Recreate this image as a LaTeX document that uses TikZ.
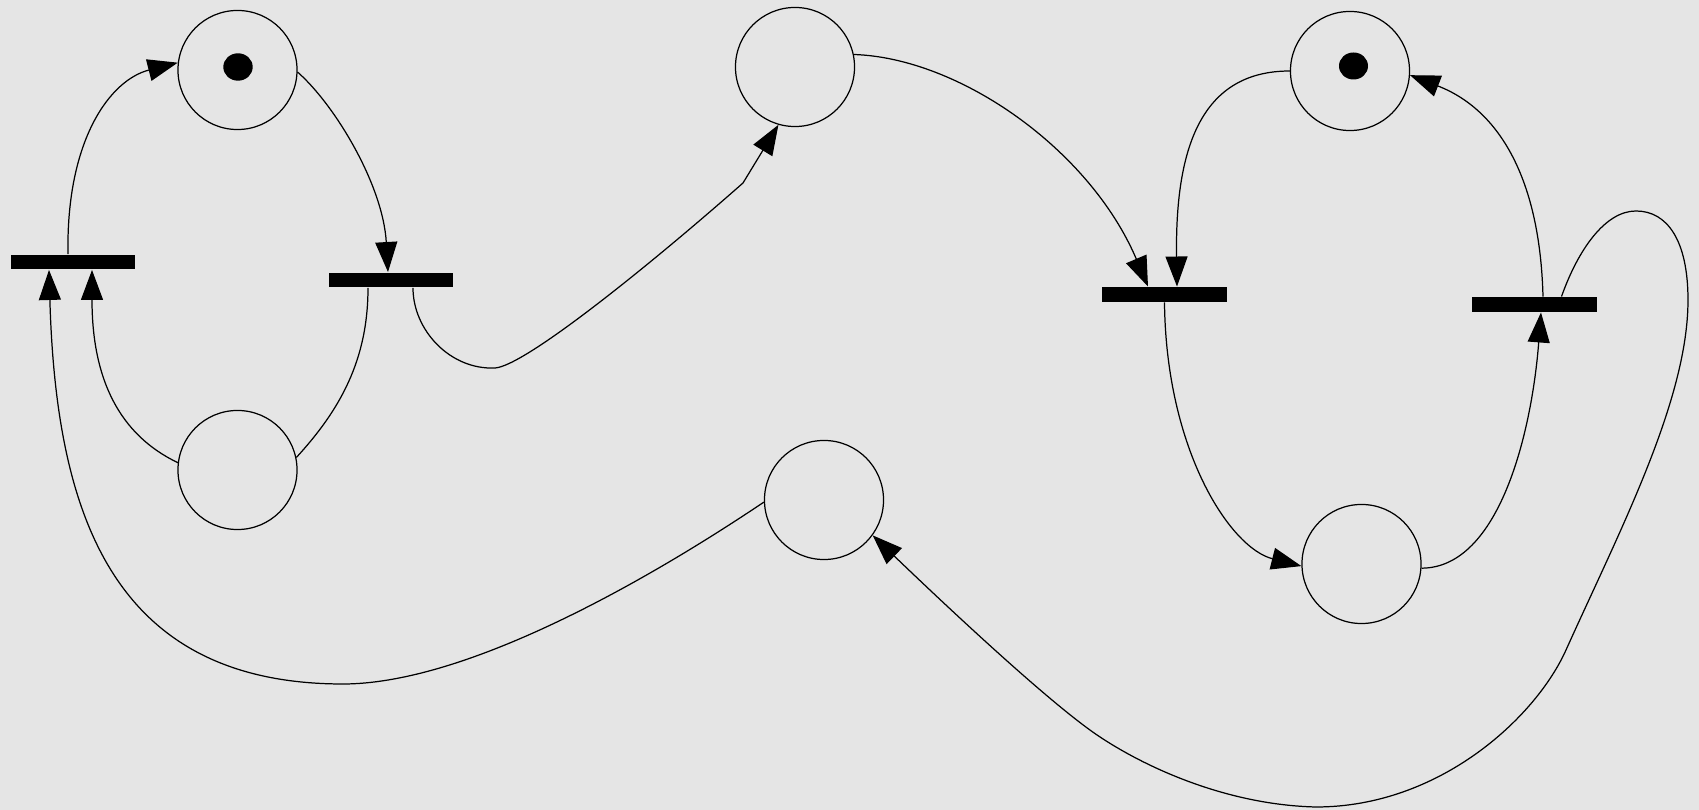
\documentclass[tikz,border=0pt]{standalone}
\usetikzlibrary{arrows.meta,calc}
\definecolor{bgc}{RGB}{229,229,229}
\begin{document}
\begin{tikzpicture}[x=0.01cm,y=-0.01cm,
  place/.style={circle,draw,line width=0.35pt,minimum size=1.19cm,inner sep=0pt},
  trans/.style={rectangle,fill=black,minimum width=1.24cm,minimum height=0.145cm,inner sep=0pt},
  arc/.style={line width=0.35pt,-{Triangle[length=0.3cm,width=0.22cm]}},
  plain/.style={line width=0.35pt}]
\fill[bgc] (0,0) rectangle (1699,810);
\useasboundingbox (0,0) rectangle (1699,810);
% places
\node[place] (p1) at (237.5,70) {};
\node[place] (p2) at (237.5,470) {};
\node[place] (p3) at (795,67) {};
\node[place] (p4) at (824,500) {};
\node[place] (p5) at (1350,71) {};
\node[place] (p6) at (1361.5,564) {};
% transitions
\node[trans] (t1) at (73,262) {};
\node[trans] (t2) at (391,280) {};
\node[trans] (t3) at (1164.5,294.5) {};
\node[trans] (t4) at (1534.5,304.5) {};
% tokens
\fill ($(p1)+(0.5,-3)$) ellipse [x radius=0.147cm, y radius=0.137cm];
\fill ($(p5)+(3.5,-5)$) ellipse [x radius=0.145cm, y radius=0.135cm];
% arcs
\draw[arc] ($(t1.north)+(-5,0)$) .. controls (66,140) and (110,80) .. (p1.173);
\draw[arc] (p1.-2) .. controls (335,105) and (383,185) .. ($(t2.north)+(-3,0)$);
\draw[plain] ($(t2.south)+(-23,0)$) .. controls (368,360) and (340,410) .. (p2.12);
\draw[arc] (p2.173) .. controls (120,435) and (92,380) .. ($(t1.south)+(19,0)$);
\draw[arc] (p4.182) .. controls (660,572) and (470,685) .. (341,684)
  .. controls (110,683) and (56,510) .. ($(t1.south)+(-24,0)$);
\draw[arc] ($(t2.south)+(22,0)$) .. controls (413,330) and (450,370) .. (495,368)
  .. controls (525,366) and (650,265) .. (743,183) -- (p3.254);
\draw[arc] (p3.12) .. controls (960,58) and (1090,150) .. ($(t3.north)+(-16.5,0)$);
\draw[arc] (p5.west) .. controls (1200,71) and (1175,150) .. ($(t3.north)+(12.5,0)$);
\draw[arc] (t3.south) .. controls (1166,450) and (1230,548) .. (p6.182);
\draw[arc] (p6.-4) .. controls (1500,568) and (1532,430) .. ($(t4.south)+(6.5,0)$);
\draw[arc] ($(t4.north)+(8.5,0)$) .. controls (1540,180) and (1500,110) .. (p5.-4);
\draw[arc] ($(t4.north)+(27,0)$) .. controls (1578,250) and (1605,211) .. (1636,211)
  .. controls (1667,211) and (1688,240) .. (1688,300)
  .. controls (1688,400) and (1620,530) .. (1566,650)
  .. controls (1536,717) and (1440,807) .. (1316,807)
  .. controls (1230,805) and (1150,770) .. (1100,737)
  .. controls (1050,704) and (940,600) .. (p4.-36);
\end{tikzpicture}
\end{document}
